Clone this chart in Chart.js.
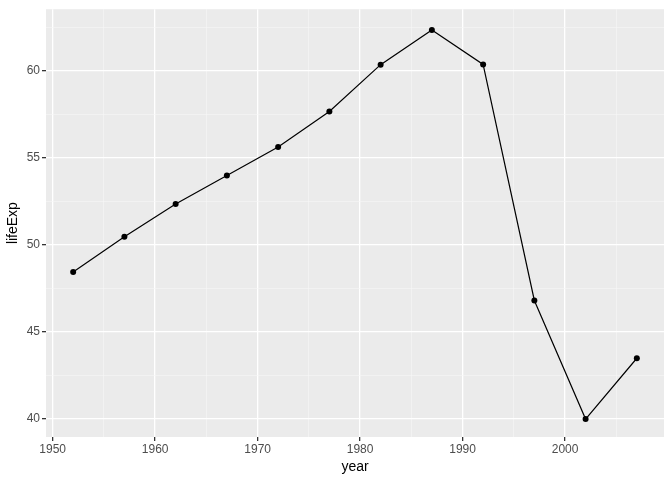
<!DOCTYPE html>
<html>
<head>
<meta charset="utf-8">
<script src="https://cdn.jsdelivr.net/npm/chart.js@4"></script>
<style>
html,body{margin:0;padding:0;background:#fff;}
#wrap{width:672px;height:480px;}
</style>
</head>
<body>
<div id="wrap"><canvas id="c" width="672" height="480"></canvas></div>
<script>
const years = [1952,1957,1962,1967,1972,1977,1982,1987,1992,1997,2002,2007];
const lifeExp = [48.451,50.469,52.358,53.995,55.635,57.674,60.363,62.351,60.377,46.809,39.989,43.487];
const xTicks = [1950,1960,1970,1980,1990,2000];
const xMinor = [1955,1965,1975,1985,1995,2005];
const yTicks = [40,45,50,55,60];
const yMinor = [42.5,47.5,52.5,57.5,62.5];

const bgPlugin = {
  id:'bg',
  beforeDraw(chart){
    const a = chart.chartArea, ctx = chart.ctx;
    ctx.save(); ctx.fillStyle='#EBEBEB';
    ctx.fillRect(a.left,a.top,a.right-a.left,a.bottom-a.top);
    ctx.restore();
  }
};
const isMajorX = v => xTicks.includes(v);
const isMajorY = v => yTicks.includes(v);

new Chart(document.getElementById('c'),{
  type:'line',
  data:{datasets:[{
    data: years.map((y,i)=>({x:y,y:lifeExp[i]})),
    borderColor:'#000', borderWidth:1.2, pointRadius:3, pointBackgroundColor:'#000',
    pointBorderWidth:0, tension:0, fill:false
  }]},
  options:{
    responsive:false, animation:false, devicePixelRatio:1,
    layout:{padding:{top:7,right:8,left:0,bottom:0}},
    plugins:{legend:{display:false},tooltip:{enabled:false}},
    scales:{
      x:{type:'linear',min:1949.35,max:2009.65,
        afterBuildTicks(s){ s.ticks = xTicks.concat(xMinor).sort((a,b)=>a-b).map(v=>({value:v})); },
        afterFit(s){ s.height = 43; },
        ticks:{autoSkip:false,maxRotation:0,padding:1,color:'#4D4D4D',font:{family:'Liberation Sans',size:12},
          callback:v=> isMajorX(v)? String(v): ''},
        grid:{color:c=> isMajorX(c.tick.value)?'#FFFFFF':'#F7F7F7',
          lineWidth:c=> isMajorX(c.tick.value)?1.3:0.6,
          tickColor:c=> isMajorX(c.tick.value)?'#333333':'rgba(0,0,0,0)',
          tickLength:4, drawTicks:true},
        border:{display:false},
        title:{display:true,text:'year',color:'#000',font:{family:'Liberation Sans',size:14},padding:{top:0,bottom:4}}
      },
      y:{type:'linear',min:38.96,max:63.55,
        afterBuildTicks(s){ s.ticks = yTicks.concat(yMinor).sort((a,b)=>a-b).map(v=>({value:v})); },
        afterFit(s){ s.width = 46; },
        ticks:{autoSkip:false,padding:2,color:'#4D4D4D',font:{family:'Liberation Sans',size:12},
          callback:v=> isMajorY(v)? String(v): ''},
        grid:{color:c=> isMajorY(c.tick.value)?'#FFFFFF':'#F7F7F7',
          lineWidth:c=> isMajorY(c.tick.value)?1.3:0.6,
          tickColor:c=> isMajorY(c.tick.value)?'#333333':'rgba(0,0,0,0)',
          tickLength:4, drawTicks:true},
        border:{display:false},
        title:{display:true,text:'lifeExp',color:'#000',font:{family:'Liberation Sans',size:14},padding:{top:5,bottom:0}}
      }
    }
  },
  plugins:[bgPlugin]
});
</script>
</body>
</html>
